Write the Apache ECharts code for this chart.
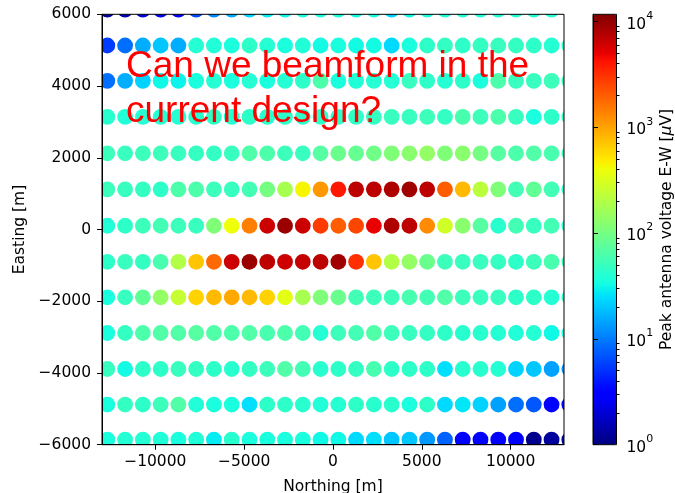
<!DOCTYPE html>
<html>
<head>
<meta charset="utf-8">
<script src="https://cdn.jsdelivr.net/npm/echarts@6/dist/echarts.min.js"></script>
<style>
  html, body { margin: 0; padding: 0; background: #fff; }
  #chart { width: 675px; height: 493px; }
</style>
</head>
<body>
<div id="chart"></div>
<script>
// Antenna grid: northing of each column, easting of each row [m]
const northing = [-12700, -11700, -10700, -9700, -8700, -7700, -6700, -5700, -4700,
  -3700, -2700, -1700, -700, 300, 1300, 2300, 3300, 4300, 5300, 6300, 7300, 8300,
  9300, 10300, 11300, 12300, 13300];
const easting = [6130, 5130, 4145, 3140, 2125, 1120, 105, -900, -1890, -2885, -3890, -4880, -5860];

// Peak antenna voltage E-W, log10(µV), one array per row (along northing)
const peakE6130  = [0.1, 0.2, 0.3, 0.4, 0.45, 0.8, 1.05, 1.2, 1.35, 1.45, 1.5, 1.55, 1.55, 1.55, 1.52, 1.55, 1.35, 1.52, 1.55, 1.6, 1.6, 1.6, 1.6, 1.6, 1.6, 1.6, 1.6];
const peakE5130  = [0.75, 0.95, 1.2, 1.3, 1.2, 1.6, 1.58, 1.55, 1.65, 1.6, 1.55, 1.58, 1.52, 1.55, 1.52, 1.52, 1.38, 1.55, 1.65, 1.68, 1.65, 1.68, 1.7, 1.68, 1.65, 1.6, 1.6];
const peakE4145  = [0.95, 1.2, 1.35, 1.5, 1.48, 1.55, 1.6, 1.55, 1.6, 1.55, 1.6, 1.65, 1.8, 1.55, 1.58, 1.6, 1.6, 1.7, 1.65, 1.6, 1.65, 1.55, 1.8, 1.7, 1.7, 1.72, 1.7];
const peakE3140  = [1.62, 1.58, 1.6, 1.6, 1.6, 1.62, 1.65, 1.6, 1.65, 1.62, 1.65, 1.65, 1.65, 1.65, 1.65, 1.68, 1.7, 1.7, 1.72, 1.68, 1.78, 1.72, 1.8, 1.7, 1.55, 1.65, 1.65];
const peakE2125  = [1.72, 1.7, 1.72, 1.72, 1.7, 1.68, 1.68, 1.7, 1.82, 1.8, 1.72, 1.7, 1.85, 1.95, 1.92, 1.98, 2.05, 2.1, 2.15, 2.05, 2.1, 2.0, 1.85, 1.8, 1.82, 1.78, 1.75];
const peakE1120  = [1.72, 1.7, 1.68, 1.65, 1.8, 1.8, 1.72, 1.7, 1.75, 2.0, 2.25, 2.65, 3.05, 3.6, 3.85, 3.85, 3.9, 3.95, 3.85, 3.3, 2.9, 2.35, 2.05, 1.75, 1.9, 1.75, 1.6];
const peakE105   = [1.58, 1.65, 1.72, 1.75, 1.72, 1.7, 2.05, 2.6, 3.15, 3.8, 3.97, 3.8, 3.45, 3.3, 3.4, 3.7, 3.9, 3.85, 3.1, 2.45, 2.1, 1.85, 1.62, 1.75, 1.7, 1.75, 1.6];
const peakEm900  = [1.65, 1.7, 1.68, 1.78, 2.3, 2.85, 3.25, 3.8, 3.97, 3.85, 3.8, 3.82, 3.85, 3.95, 3.5, 2.85, 2.3, 2.15, 1.95, 1.72, 1.7, 1.7, 1.68, 1.65, 1.72, 1.78, 1.7];
const peakEm1890 = [1.55, 1.7, 1.9, 2.15, 2.4, 2.8, 2.9, 2.98, 2.9, 2.8, 2.55, 2.25, 2.05, 1.95, 1.75, 1.72, 1.72, 1.78, 1.75, 1.82, 1.72, 1.7, 1.7, 1.65, 1.65, 1.6, 1.6];
const peakEm2885 = [1.55, 1.68, 1.8, 1.82, 1.82, 1.85, 1.82, 1.8, 1.82, 1.78, 1.8, 1.75, 1.6, 1.72, 1.75, 1.82, 1.72, 1.7, 1.68, 1.65, 1.62, 1.62, 1.6, 1.58, 1.6, 1.5, 1.55];
const peakEm3890 = [1.7, 1.52, 1.65, 1.65, 1.7, 1.68, 1.65, 1.62, 1.68, 1.72, 1.82, 1.75, 1.62, 1.65, 1.68, 1.78, 1.65, 1.65, 1.65, 1.4, 1.62, 1.62, 1.6, 1.35, 1.3, 1.15, 1.1];
const peakEm4880 = [1.55, 1.68, 1.65, 1.72, 1.82, 1.58, 1.55, 1.55, 1.4, 1.65, 1.65, 1.62, 1.58, 1.6, 1.65, 1.62, 1.62, 1.55, 1.65, 1.38, 1.43, 1.35, 1.15, 0.95, 0.85, 0.5, 0.45];
const peakEm5860 = [1.55, 1.6, 1.6, 1.58, 1.55, 1.58, 1.45, 1.62, 1.55, 1.55, 1.55, 1.55, 1.5, 1.5, 1.38, 1.4, 1.3, 1.3, 1.12, 0.9, 0.45, 0.45, 0.48, 0.45, 0.05, 0.1, 0.1];

const peakRows = [peakE6130, peakE5130, peakE4145, peakE3140, peakE2125, peakE1120, peakE105,
  peakEm900, peakEm1890, peakEm2885, peakEm3890, peakEm4880, peakEm5860];

// Tick labels
const xTicks = [-10000, -5000, 0, 5000, 10000];
const cbarDecades = [0, 1, 2, 3, 4];
const cbarMax = 4.068; // upper end of the colour scale, log10(µV)

// matplotlib "jet" colormap
function jet(t) {
  const clamp = v => Math.max(0, Math.min(1, v));
  let r, g, b;
  if (t < 0.35) r = 0; else if (t < 0.66) r = (t - 0.35) / 0.31; else if (t < 0.89) r = 1; else r = 1 - 0.5 * (t - 0.89) / 0.11;
  if (t < 0.125) g = 0; else if (t < 0.375) g = (t - 0.125) / 0.25; else if (t < 0.64) g = 1; else if (t < 0.91) g = 1 - (t - 0.64) / 0.27; else g = 0;
  if (t < 0.11) b = 0.5 + 0.5 * t / 0.11; else if (t < 0.34) b = 1; else if (t < 0.65) b = 1 - (t - 0.34) / 0.31; else b = 0;
  const h = v => Math.round(clamp(v) * 255).toString(16).padStart(2, '0');
  return '#' + h(r) + h(g) + h(b);
}
const jetStops = [];
for (let i = 0; i <= 100; i++) jetStops.push(jet(i / 100));

// Minor colorbar ticks at 2..9 x 10^n
const cbarMinor = [];
cbarDecades.slice(0, 4).forEach(n => { for (let k = 2; k <= 9; k++) cbarMinor.push(n + Math.log10(k)); });

const points = [];
peakRows.forEach((row, i) => row.forEach((v, j) => points.push([northing[j], easting[i], v])));

const FONT = 'DejaVu Sans';
const minusFmt = v => String(v).replace('-', '\u2212');
const black = '#000';

const chart = echarts.init(document.getElementById('chart'), null, { renderer: 'canvas' });
chart.setOption({
  animation: false,
  backgroundColor: '#fff',
  grid: [
    { left: 102, top: 14.3, width: 462, height: 430.4, show: true, borderColor: black, borderWidth: 1, z: 10,
      containLabel: false, outerBoundsMode: 'none' },
    { left: 593, top: 14.3, width: 23.5, height: 430.4, show: true, borderColor: black, borderWidth: 1, z: 10,
      containLabel: false, outerBoundsMode: 'none' }
  ],
  xAxis: [
    {
      gridIndex: 0, type: 'value', min: -13000, max: 13000, z: 10,
      axisLine: { show: true, onZero: false, lineStyle: { color: black, width: 1 } },
      axisTick: { show: true, length: 5, customValues: xTicks, lineStyle: { color: black, width: 1 } },
      axisLabel: { customValues: xTicks, formatter: minusFmt, margin: 9, fontSize: 15.5, fontFamily: FONT, color: black },
      splitLine: { show: false },
      name: 'Northing [m]', nameLocation: 'middle', nameGap: 34,
      nameTextStyle: { fontSize: 15.5, fontFamily: FONT, color: black }
    },
    { gridIndex: 1, type: 'value', min: 0, max: 1, show: false }
  ],
  yAxis: [
    {
      gridIndex: 0, type: 'value', min: -6000, max: 6000, interval: 2000, z: 10,
      axisLine: { show: true, onZero: false, lineStyle: { color: black, width: 1 } },
      axisTick: { show: true, length: 5, lineStyle: { color: black, width: 1 } },
      axisLabel: { formatter: minusFmt, margin: 11, fontSize: 15.5, fontFamily: FONT, color: black },
      splitLine: { show: false },
      name: 'Easting [m]', nameLocation: 'middle', nameGap: 60,
      nameTextStyle: { fontSize: 15.5, fontFamily: FONT, color: black }
    },
    {
      gridIndex: 1, type: 'value', min: 0, max: cbarMax, position: 'right', z: 10,
      axisLine: { show: true, lineStyle: { color: black, width: 1 } },
      axisTick: { show: true, length: 5, customValues: cbarDecades, lineStyle: { color: black, width: 1 } },
      axisLabel: {
        customValues: cbarDecades, margin: 10, color: black,
        formatter: v => '{b|10}{s|' + Math.round(v) + '}',
        rich: {
          b: { fontSize: 15.5, fontFamily: FONT, color: black, lineHeight: 22, verticalAlign: 'bottom' },
          s: { fontSize: 11, fontFamily: FONT, color: black, lineHeight: 22, verticalAlign: 'top' }
        }
      },
      splitLine: { show: false },
      name: 'Peak antenna voltage E-W [{i|\u03bc}V]', nameLocation: 'middle', nameGap: 42, nameRotate: 90,
      nameTextStyle: {
        fontSize: 15.5, fontFamily: FONT, color: black,
        rich: { i: { fontSize: 15.5, fontFamily: FONT, fontStyle: 'italic', color: black } }
      }
    },
    {
      gridIndex: 1, type: 'value', min: 0, max: cbarMax, position: 'right', z: 10,
      axisLine: { show: false },
      axisTick: { show: true, length: 3, customValues: cbarMinor, lineStyle: { color: black, width: 1 } },
      axisLabel: { show: false },
      splitLine: { show: false }
    }
  ],
  visualMap: {
    type: 'continuous', min: 0, max: cbarMax, dimension: 2, seriesIndex: 0,
    inRange: { color: jetStops },
    orient: 'vertical', left: 593, top: 14.3, itemWidth: 23.5, itemHeight: 430.4,
    padding: 0, calculable: false, hoverLink: false, text: null, realtime: false
  },
  graphic: [{
    type: 'text', left: 126, top: 45, z: 100,
    style: {
      text: 'Can we beamform in the\ncurrent design?',
      fontSize: 37, fontFamily: '"Liberation Sans", Arial, sans-serif',
      fill: '#ff0000', lineHeight: 44.5
    }
  }],
  series: [{
    type: 'custom',
    coordinateSystem: 'cartesian2d', xAxisIndex: 0, yAxisIndex: 0,
    clip: true,
    encode: { x: 0, y: 1 },
    data: points,
    renderItem: (params, api) => {
      const p = api.coord([api.value(0), api.value(1)]);
      return { type: 'circle', shape: { cx: p[0], cy: p[1], r: 7.9 }, style: { fill: api.visual('color') } };
    }
  }]
});
</script>
</body>
</html>
